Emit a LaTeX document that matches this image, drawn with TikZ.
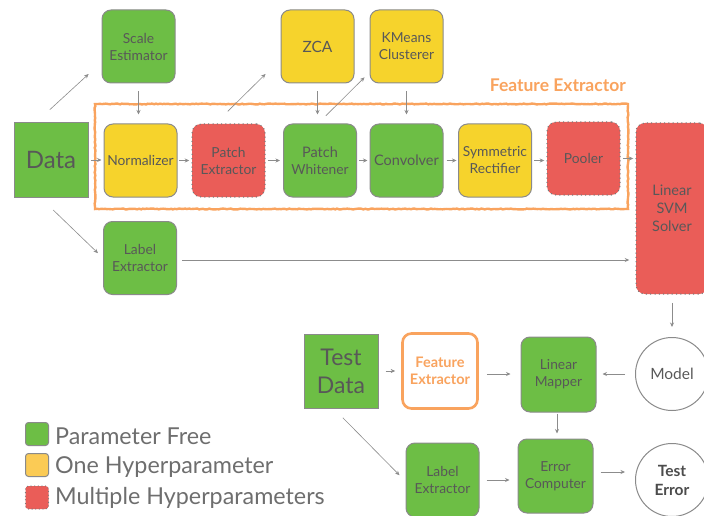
\documentclass[tikz,border=0pt]{standalone}
\usepackage{fontspec}
\setmainfont{Lato}
\usetikzlibrary{arrows.meta,decorations.pathmorphing,calc}

\definecolor{pfgreen}{HTML}{6DBE45}
\definecolor{ohyellow}{HTML}{F6D32C}
\definecolor{legyellow}{HTML}{FBCB55}
\definecolor{mhred}{HTML}{EA5D58}
\definecolor{edge}{HTML}{8A8A8A}
\definecolor{dotc}{HTML}{7A7A7A}
\definecolor{txt}{HTML}{585858}
\definecolor{legtxt}{HTML}{6E6E6E}
\definecolor{arrc}{HTML}{8C8C8C}
\definecolor{feorange}{HTML}{F9A35E}

\begin{document}
\begin{tikzpicture}[x=1pt,y=-1pt,
  box/.style={rounded corners=9pt, draw=edge, line width=1pt,
    minimum width=73pt, minimum height=73pt, align=center, inner sep=0pt,
    font=\fontsize{13.8}{17}\selectfont, text=txt},
  free/.style={box, fill=pfgreen},
  onehp/.style={box, fill=ohyellow},
  multi/.style={box, fill=mhred, draw=dotc, line width=1.5pt, line cap=round,
    dash pattern=on 0pt off 4.3pt},
  datasq/.style={draw=edge, fill=pfgreen, line width=1pt, minimum size=74pt,
    inner sep=0pt, align=center, text=txt},
  circ/.style={circle, draw=edge, line width=1pt, minimum size=73pt,
    inner sep=0pt, align=center, text=txt},
  handdrawn/.style={draw=feorange, line width=2.4pt,
    decorate, decoration={random steps, segment length=2pt, amplitude=0.45pt}},
  arr/.style={-{Stealth[length=4.5pt,width=4pt]}, draw=arrc, line width=0.6pt},
  legbox/.style={rounded corners=3pt, draw=edge, line width=1pt,
    minimum size=23pt, inner sep=0pt},
  legtext/.style={anchor=west, text=legtxt, inner sep=0pt,
    font=\fontsize{23.3}{26}\selectfont}
]
\useasboundingbox (0,0) rectangle (704,516);

% feature extractor grouping frame
\coordinate (fetl) at (95,104);
\coordinate (febr) at (628,209);
\draw[handdrawn] (fetl) rectangle (febr);
\node[anchor=east, text=feorange, inner sep=0pt,
  font=\fontsize{17.5}{19}\selectfont\bfseries] (felabel) at (626,85) {Feature Extractor};

% training pipeline
\node[datasq, font=\fontsize{24}{26}\selectfont] (data) at (51,160) {Data};
\node[free]  (scale) at (138.5,46.5) {Scale\\Estimator};
\node[onehp] (zca)   at (317.5,46.5) {\fontsize{15.5}{17}\selectfont ZCA};
\node[onehp] (kmeans) at (406.5,46.5) {KMeans\\Clusterer};
\node[onehp] (norm)  at (140.5,160.5) {Normalizer};
\node[multi] (patch) at (228.5,160.5) {Patch\\Extractor};
\node[free]  (white) at (320,160.5) {\fontsize{14.5}{17.5}\selectfont Patch\\Whitener};
\node[free]  (conv)  at (406.5,160.5) {\fontsize{14.5}{17.5}\selectfont Convolver};
\node[onehp] (rect)  at (495,160.5) {Symmetric\\Rectifier};
\node[multi] (pool)  at (583.5,158.5) {Pooler};
\node[multi, minimum width=72pt, minimum height=171pt,
  font=\fontsize{14.5}{18}\selectfont] (svm) at (672,208.5) {Linear\\SVM\\Solver};
\node[free]  (label) at (140,258) {Label\\Extractor};

% test pipeline
\node[datasq, font=\fontsize{23}{28}\selectfont] (tdata) at (341,371) {Test\\Data};
\node[rounded corners=9pt, draw=feorange, line width=2.6pt, fill=white,
  minimum width=75pt, minimum height=75pt,
  align=center, inner sep=0pt, text=feorange,
  font=\fontsize{14.5}{17.5}\selectfont\bfseries] (fex) at (440,371) {Feature\\Extractor};
\node[free, minimum width=75pt, minimum height=75pt] (mapper) at (558.5,374.5) {Linear\\Mapper};
\node[circ, font=\fontsize{15.5}{18}\selectfont] (model) at (672,374) {Model};
\node[free, minimum height=74pt] (tlabel) at (442.5,480) {Label\\Extractor};
\node[free, minimum width=75pt, minimum height=74pt] (errc) at (555.5,476) {Error\\Computer};
\node[circ, font=\fontsize{15.5}{19}\selectfont\bfseries, text=black!70] (terr) at (672,480) {Test\\Error};

% connectors, training
\draw[arr, shorten <=19pt, shorten >=17.5pt] (data.112) -- (scale.203);
\draw[arr, shorten <=2pt, shorten >=2pt] (data.east) -- (data.east -| norm.west);
\draw[arr, shorten <=8pt, shorten >=9pt] (scale.south) -- (scale.south |- norm.north);
\draw[arr, shorten <=1.5pt, shorten >=2pt] (norm.east) -- (norm.east -| patch.west);
\draw[arr, shorten <=2pt, shorten >=3pt] (patch.east) -- (patch.east -| white.west);
\draw[arr, shorten <=17pt, shorten >=21pt] (patch.109) -- (zca.199);
\draw[arr, shorten <=8pt, shorten >=9pt] (zca.south) -- (zca.south |- white.north);
\draw[arr, shorten <=11pt, shorten >=7pt] (white.93) -- (kmeans.215);
\draw[arr, shorten <=2pt, shorten >=2pt] (white.east) -- (white.east -| conv.west);
\draw[arr, shorten <=8pt, shorten >=9pt] (kmeans.south) -- (kmeans.south |- conv.north);
\draw[arr, shorten <=3pt, shorten >=1.5pt] (conv.east) -- (conv.east -| rect.west);
\draw[arr, shorten <=2pt, shorten >=2pt] (rect.east) -- (rect.east -| pool.west);
\draw[arr, shorten <=2pt, shorten >=2pt] (pool.east) -- (pool.east -| svm.west);
\draw[arr, shorten <=18pt, shorten >=7pt] (data.254) -- (label.180);
\draw[arr, shorten <=5pt, shorten >=6pt] ([yshift=-2pt]label.east) -- ([yshift=-2pt]label.east -| svm.west);
\draw[arr, shorten <=8pt, shorten >=10pt] (svm.south) -- (model.north);

% connectors, testing
\draw[arr, shorten <=10pt, shorten >=6pt] (model.west) -- (model.west -| mapper.east);
\draw[arr, shorten <=7pt, shorten >=6pt] (tdata.east) -- (tdata.east -| fex.west);
\draw[arr, shorten <=8pt, shorten >=10pt] ([yshift=-3pt]fex.east) -- ([yshift=-3pt]fex.east -| mapper.west);
\draw[arr, shorten <=1pt, shorten >=5pt] ([xshift=-1.5pt]mapper.south) -- ([xshift=-1.5pt]mapper.south |- errc.north);
\draw[arr, shorten <=13pt, shorten >=8.5pt] (tdata.259) -- (tlabel.182);
\draw[arr, shorten <=7pt, shorten >=8pt] (tlabel.east) -- (tlabel.east -| errc.west);
\draw[arr, shorten <=7pt, shorten >=10pt] ([yshift=4pt]errc.east) -- ([yshift=4pt]errc.east -| terr.west);

% legend
\node[legbox, fill=pfgreen] (leg1) at (37,434) {};
\node[legbox, fill=legyellow] (leg2) at (37,465) {};
\node[legbox, fill=mhred, draw=dotc, line width=1.3pt, line cap=round,
  dash pattern=on 0pt off 3.6pt] (leg3) at (37,497.5) {};
\node[legtext] (leg1t) at (55,436) {Parameter Free};
\node[legtext] (leg2t) at (55,467) {One Hyperparameter};
\node[legtext] (leg3t) at (55,498) {Multiple Hyperparameters};
\end{tikzpicture}
\end{document}
